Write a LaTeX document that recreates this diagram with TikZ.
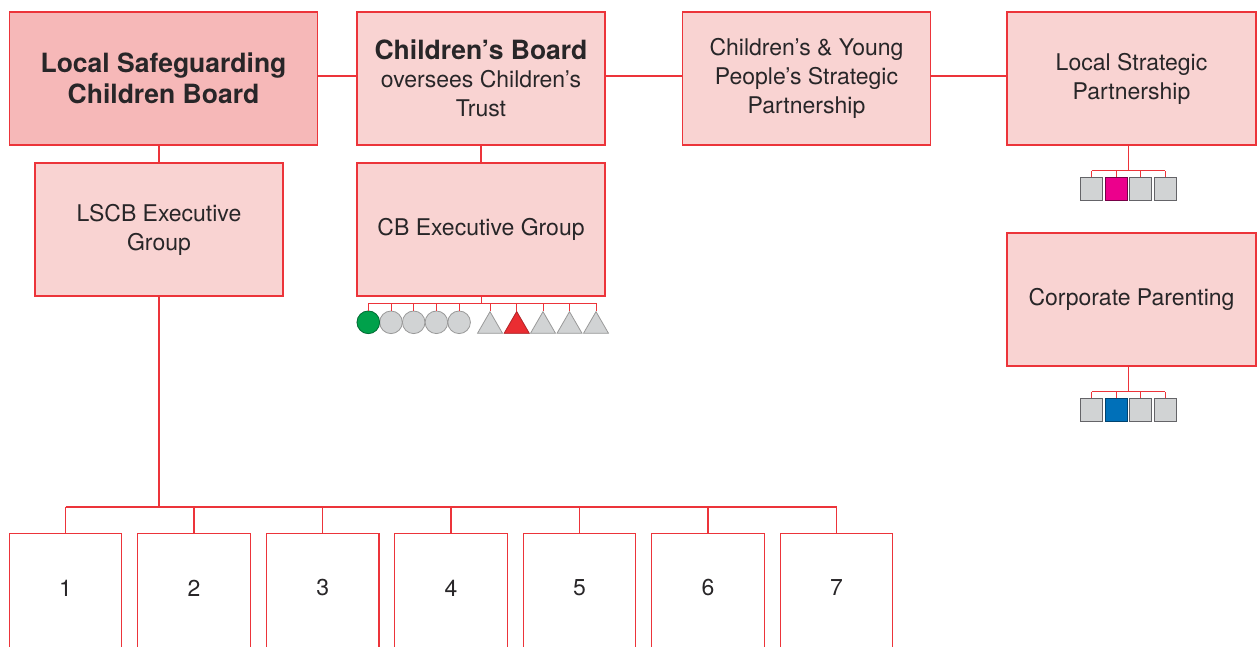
\documentclass[tikz,border=0pt]{standalone}
\usepackage{fontspec}
\setmainfont{TeX Gyre Heros}
\usetikzlibrary{shapes.geometric,calc}
\definecolor{edgered}{RGB}{236,52,58}
\definecolor{boxpink}{RGB}{249,211,210}
\definecolor{darkpink}{RGB}{246,184,184}
\definecolor{txt}{RGB}{40,38,40}
\definecolor{lgray}{RGB}{209,211,212}
\definecolor{dgray}{RGB}{100,100,104}
\definecolor{mgreen}{RGB}{0,161,75}
\definecolor{mred}{RGB}{234,45,50}
\definecolor{mmag}{RGB}{236,0,140}
\definecolor{mblue}{RGB}{0,112,185}
\tikzset{
  box/.style={draw=edgered, fill=boxpink, line width=1.2pt, minimum width=248pt,
    minimum height=133pt, inner sep=0pt, align=center, text=txt,
    font=\fontsize{23}{29}\selectfont},
  numbox/.style={inner sep=0pt, minimum width=112pt, minimum height=108pt, text=txt,
    font=\fontsize{23}{29}\selectfont},
  conn/.style={draw=edgered, line width=1.2pt},
  sq/.style={draw=dgray, fill=lgray, line width=1pt, minimum width=22pt, minimum height=23pt, inner sep=0pt},
  circ/.style={circle, draw=gray!80, fill=lgray, line width=0.8pt, minimum size=22.6pt, inner sep=0pt},
  tri/.style={regular polygon, regular polygon sides=3, draw=gray!80, fill=lgray, line width=0.8pt, minimum size=28.9pt, inner sep=0pt}
}
\begin{document}
\begin{tikzpicture}[x=1pt,y=-1pt]
\useasboundingbox (0,0) rectangle (1257,646);
\clip (0,0) rectangle (1257,646);
% top row
\node[box, fill=darkpink, minimum width=307.5pt, font=\fontsize{26.5}{32}\selectfont\bfseries] (lscb) at (163.5,78.5) {Local Safeguarding\\[-0.5pt]Children Board};
\node[box] (cb) at (481,78.5) {{\fontsize{26.5}{31}\selectfont\bfseries Children’s Board}\\[-1pt]oversees Children’s\\Trust};
\node[box, minimum width=248.5pt] (cypsp) at (806.5,78.5) {Children’s \& Young\\People’s Strategic\\Partnership};
\node[box, minimum width=249pt] (lsp) at (1131.5,78.5) {Local Strategic\\Partnership};
% second row
\node[box] (lscbx) at (159,229.5) {LSCB Executive\\Group};
\node[box] (cbx) at (481,229.5) {CB Executive Group};
\node[box, minimum width=249pt] (corp) at (1131.5,299.5) {Corporate Parenting};
% top connectors
\draw[conn] ([yshift=2.5pt]lscb.east) -- ([yshift=2.5pt]cb.west);
\draw[conn] ([yshift=2.5pt]cb.east) -- ([yshift=2.5pt]cypsp.west);
\draw[conn] ([yshift=2.5pt]cypsp.east) -- ([yshift=2.5pt]lsp.west);
\draw[conn] (lscbx.north) -- (lscbx.north |- lscb.south);
\draw[conn] (cbx.north) -- (cb.south);
% circles and triangles under CB Executive Group
\foreach \i/\x in {1/368.3,2/391,3/413.7,4/436.4,5/459.1} {
  \node[circ] (c\i) at (\x,322.3) {};
}
\node[circ, fill=mgreen, draw=mgreen!70!black] (c1) at (368.3,322.3) {};
\foreach \i/\x in {1/490,2/516.7,3/543,4/569.5,5/596} {
  \node[tri] (t\i) at (\x,326.1) {};
}
\node[tri, fill=mred, draw=mred!80!black] (t2) at (516.7,326.1) {};
\coordinate (cbbus) at (481,303.3);
\draw[conn, line width=1pt] (cbx.south) -- (cbbus);
\draw[conn, line width=1pt] (c1.north |- cbbus) -- (t5.corner 1 |- cbbus);
\foreach \i in {1,...,5} {
  \draw[conn, line width=1pt] (c\i.north) -- (c\i.north |- cbbus);
  \draw[conn, line width=1pt] (t\i.corner 1) -- (t\i.corner 1 |- cbbus);
}
% squares under LSP and Corporate Parenting
\foreach \i/\x in {1/1091.5,2/1116,3/1140.5,4/1165} {
  \node[sq] (a\i) at (\x,189.2) {};
  \node[sq] (b\i) at (\x,410.3) {};
}
\node[sq, fill=mmag, draw=mmag!50!black] (a2) at (1116,189.2) {};
\node[sq, fill=mblue, draw=mblue!60!black] (b2) at (1116,410.3) {};
\coordinate (lspbus) at (1128.3,170.7);
\coordinate (corpbus) at (1128.3,391.7);
\draw[conn, line width=1pt] (lspbus) -- (lspbus |- lsp.south);
\draw[conn, line width=1pt] (corpbus) -- (corpbus |- corp.south);
\draw[conn, line width=1pt] (a1.north |- lspbus) -- (a4.north |- lspbus);
\draw[conn, line width=1pt] (b1.north |- corpbus) -- (b4.north |- corpbus);
\foreach \i in {1,...,4} {
  \draw[conn, line width=1pt] (a\i.north) -- (a\i.north |- lspbus);
  \draw[conn, line width=1pt] (b\i.north) -- (b\i.north |- corpbus);
}
% bottom numbered boxes
\coordinate (bus) at (159,507);
\draw[conn] (lscbx.south) -- (bus);
\foreach \i/\x in {1/65.5,2/194,3/322.7,4/451,5/579.5,6/708,7/836.5} {
  \node[numbox] (n\i) at (\x,588) {\i};
  \draw[conn] ($(n\i.south west)+(0,30)$) -- (n\i.north west) -- (n\i.north east) -- ($(n\i.south east)+(0,30)$);
  \draw[conn] (n\i.north) -- (n\i.north |- bus);
}
\draw[conn] (n1.north |- bus) -- (n7.north |- bus);
\end{tikzpicture}
\end{document}
